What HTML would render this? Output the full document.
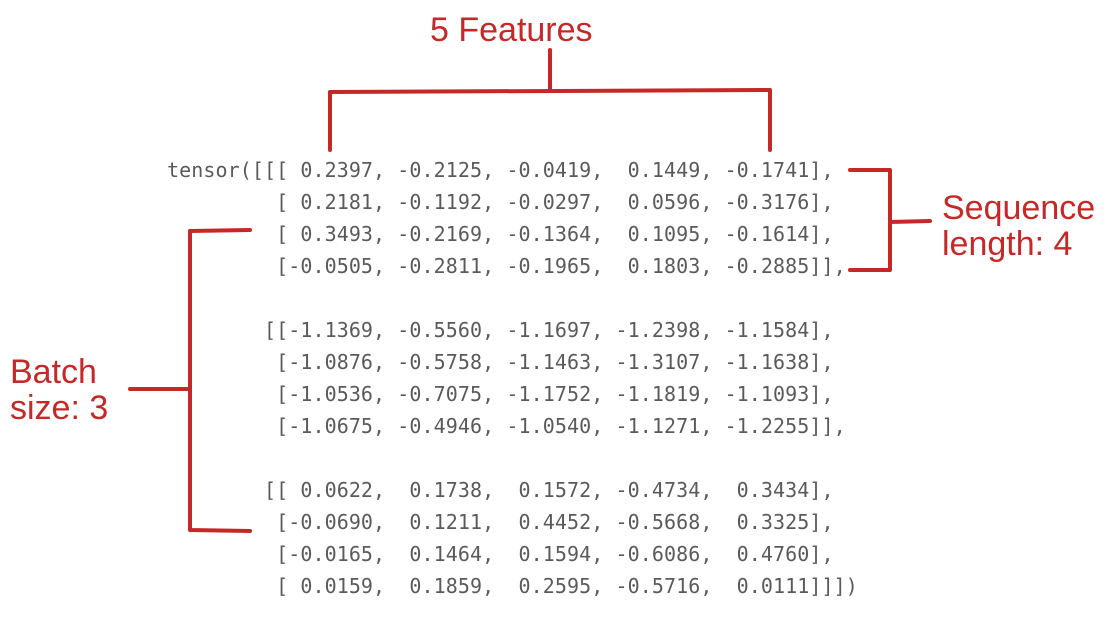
<!DOCTYPE html>
<html><head><style>
html,body{margin:0;padding:0;background:#fff;width:1108px;height:619px;overflow:hidden;position:relative}
pre{position:absolute;left:167px;top:154px;margin:0;font-family:"DejaVu Sans Mono","Liberation Mono",monospace;font-size:20px;letter-spacing:0.08px;line-height:32px;color:#5a5a5a}
.h{position:absolute;font-family:"Comic Sans MS","Liberation Sans",sans-serif;color:#c62828;font-size:34px;line-height:36px}
</style></head><body>
<pre>tensor([[[ 0.2397, -0.2125, -0.0419,  0.1449, -0.1741],
         [ 0.2181, -0.1192, -0.0297,  0.0596, -0.3176],
         [ 0.3493, -0.2169, -0.1364,  0.1095, -0.1614],
         [-0.0505, -0.2811, -0.1965,  0.1803, -0.2885]],

        [[-1.1369, -0.5560, -1.1697, -1.2398, -1.1584],
         [-1.0876, -0.5758, -1.1463, -1.3107, -1.1638],
         [-1.0536, -0.7075, -1.1752, -1.1819, -1.1093],
         [-1.0675, -0.4946, -1.0540, -1.1271, -1.2255]],

        [[ 0.0622,  0.1738,  0.1572, -0.4734,  0.3434],
         [-0.0690,  0.1211,  0.4452, -0.5668,  0.3325],
         [-0.0165,  0.1464,  0.1594, -0.6086,  0.4760],
         [ 0.0159,  0.1859,  0.2595, -0.5716,  0.0111]]])</pre>
<svg width="1108" height="619" style="position:absolute;left:0;top:0" fill="none" stroke="#c62828" stroke-width="4" stroke-linecap="round" stroke-linejoin="round">
<path d="M330 150 L330 92 L770 90 L770 150"/>
<path d="M550 90 L550 50"/>
<path d="M850 170 L890 170 L890 270 L850 270"/>
<path d="M890 222 L930 221"/>
<path d="M250 230 L190 231 L190 530 L250 531"/>
<path d="M130 389 L190 389"/>
</svg>
<div class="h" style="left:430px;top:12px">5 Features</div>
<div class="h" style="left:942px;top:190px">Sequence<br>length: 4</div>
<div class="h" style="left:10px;top:354px">Batch<br>size: 3</div>
</body></html>
